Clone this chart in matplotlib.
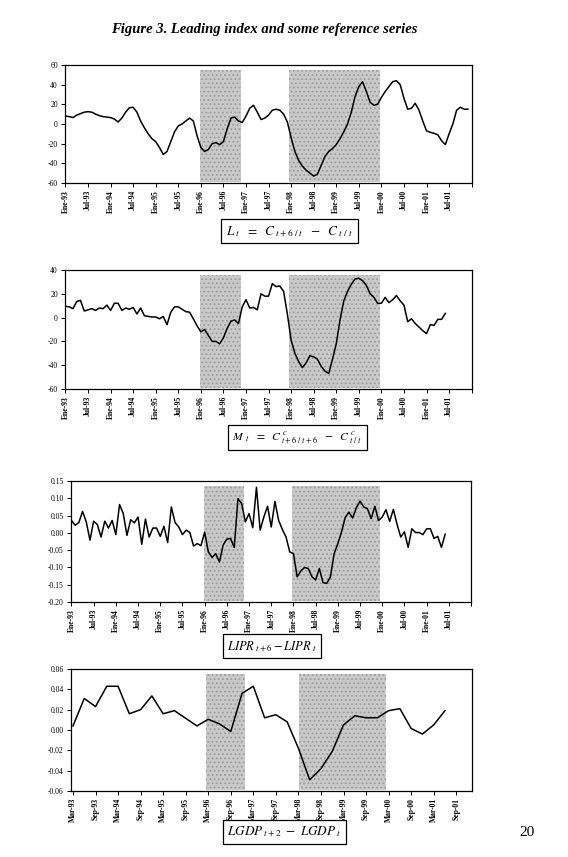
import matplotlib
matplotlib.use("Agg")
import matplotlib.pyplot as plt

plt.rcParams['font.family'] = ['Liberation Serif', 'DejaVu Serif']
plt.rcParams['mathtext.fontset'] = 'stix'
plt.rcParams['axes.unicode_minus'] = False
plt.rcParams['hatch.linewidth'] = 0.8

# monthly tick labels (Ene-93 ... Jul-01) and quarterly ones (Mar-93 ... Sep-01)
month_labels = []
for yr in ['93', '94', '95', '96', '97', '98', '99', '00', '01']:
    month_labels += ['Ene-' + yr, 'Jul-' + yr]
quarter_labels = []
for yr in ['93', '94', '95', '96', '97', '98', '99', '00', '01']:
    quarter_labels += ['Mar-' + yr, 'Sep-' + yr]

# L_t, monthly from Ene-93
leading = [8, 7.5, 6.5, 9, 10.5, 12, 12.5, 12, 10, 8.5, 7.5, 7,
           6.5, 5, 2, 6, 12, 16.5, 17, 12, 3, -4, -10, -15,
           -18, -24, -31, -28, -18, -8, -2, 0, 3, 6, 3, -12,
           -24, -28, -26, -20, -19, -21, -18, -5, 6, 7, 3, 1.5,
           8, 16, 19, 12, 4.5, 6, 9, 14, 15, 14, 10, 2,
           -14, -28, -37, -43, -47, -50, -53, -51, -42, -33, -28, -25,
           -21, -15, -8, 0, 12, 28, 38, 43, 33, 22, 19, 20,
           27, 33, 38, 43, 44, 40, 26, 15, 16, 21, 14, 3,
           -7, -8.5, -9.5, -11, -17, -21, -10, 0, 14, 17, 15, 15]

# M_t, monthly from Ene-93
m_series = [9.5, 9, 7.5, 13.5, 14.5, 5.5, 6.5, 7.5, 6, 8, 7.5, 10.5,
            6, 12, 12, 6, 8, 7, 8.5, 3, 8, 1.5, 1, 0.5,
            0.5, -1, 1, -6, 4.5, 9, 9, 7, 5, 4.5, -1, -7,
            -12, -10, -15, -20, -20, -22, -17, -9, -3, -2, -5, 9,
            15, 8, 8.5, 6.5, 20, 18, 18, 28.5, 26, 26.5, 22, 3,
            -19, -30, -37, -42, -38, -32, -33, -35, -41, -45, -47, -35,
            -22, -2, 14, 22, 28, 32.5, 33, 31, 27, 20, 17, 12,
            12, 17, 12.5, 15, 18.5, 14, 10.5, -3.5, -1, -5, -8, -11,
            -13.5, -6, -6.5, -1.5, -1.5, 3.5]

# LIPR(t+6) - LIPR(t), monthly from Ene-93
lipr = [0.036, 0.022, 0.030, 0.062, 0.032, -0.021, 0.034, 0.024, -0.012, 0.034, 0.014, 0.036,
        -0.005, 0.082, 0.056, -0.007, 0.038, 0.029, 0.046, -0.033, 0.040, -0.012, 0.014, 0.014,
        -0.010, 0.019, -0.028, 0.075, 0.030, 0.017, -0.005, 0.008, 0.001, -0.038, -0.031, -0.037,
        0.002, -0.055, -0.071, -0.060, -0.084, -0.035, -0.018, -0.016, -0.042, 0.099, 0.085, 0.032,
        0.056, 0.015, 0.132, 0.008, 0.046, 0.077, 0.017, 0.091, 0.036, 0.010, -0.012, -0.055,
        -0.060, -0.127, -0.110, -0.100, -0.103, -0.127, -0.136, -0.103, -0.144, -0.146, -0.127, -0.060,
        -0.031, 0.003, 0.045, 0.060, 0.043, 0.073, 0.092, 0.075, 0.070, 0.041, 0.077, 0.036,
        0.046, 0.067, 0.033, 0.068, 0.025, -0.012, 0.003, -0.042, 0.012, 0.001, 0.001, -0.005,
        0.012, 0.012, -0.016, -0.010, -0.042, -0.004]

# LGDP(t+2) - LGDP(t), quarterly from Mar-93
lgdp = [0.004, 0.031, 0.023, 0.043, 0.043, 0.016, 0.020, 0.0335, 0.016, 0.019,
        0.0115, 0.004, 0.0105, 0.006, -0.0015, 0.036, 0.043, 0.012, 0.015, 0.008,
        -0.018, -0.049, -0.038, -0.021, 0.005, 0.014, 0.012, 0.012, 0.019, 0.021,
        0.0015, -0.004, 0.005, 0.019]

# shaded periods (months from Ene-93 / quarters from Mar-93)
shade_months = [(35.8, 46.6), (59.5, 83.5)]
shade_quarters = [(11.8, 15.3), (20.05, 27.8)]

fig = plt.figure(figsize=(5.68, 8.57), dpi=100)

panels = [
    dict(pos=[0.1139, 0.7865, 0.7165, 0.1377], y=leading, lim=(-60, 60), step=20,
         fmt='{:.0f}', labels=month_labels, every=6, xmax=108, shade=shade_months),
    dict(pos=[0.1139, 0.5461, 0.7165, 0.1389], y=m_series, lim=(-60, 40), step=20,
         fmt='{:.0f}', labels=month_labels, every=6, xmax=108, shade=shade_months),
    dict(pos=[0.1245, 0.2975, 0.7048, 0.1412], y=lipr, lim=(-0.20, 0.15), step=0.05,
         fmt='{:.2f}', labels=month_labels, every=6, xmax=108, shade=shade_months),
    dict(pos=[0.1245, 0.0770, 0.7065, 0.1424], y=lgdp, lim=(-0.06, 0.06), step=0.02,
         fmt='{:.2f}', labels=quarter_labels, every=2, xmax=35.4, shade=shade_quarters),
]

for p in panels:
    ax = fig.add_axes(p['pos'])
    for a, b in p['shade']:
        ax.axvspan(a, b, ymin=0.008, ymax=0.955, facecolor='#c9c9c9',
                   edgecolor='#9c9c9c', hatch='....', linewidth=0, zorder=1)
    ax.plot(range(len(p['y'])), p['y'], color='black', linewidth=1.1, zorder=3)
    ax.set_xlim(-0.2, p['xmax'])
    lo, hi = p['lim']
    ax.set_ylim(lo, hi)
    n = int(round((hi - lo) / p['step']))
    yt = [lo + i * p['step'] for i in range(n + 1)]
    ax.set_yticks(yt)
    ax.set_yticklabels([p['fmt'].format(v) for v in yt], fontsize=5.5)
    xt = [i * p['every'] for i in range(len(p['labels']) + 1)]
    xt = [v for v in xt if v <= p['xmax']]
    ax.set_xticks(xt)
    ax.set_xticklabels((p['labels'] + [''])[:len(xt)], rotation=90,
                       fontsize=5.5, fontweight='bold')
    ax.tick_params(axis='both', direction='out', length=3, width=0.7, pad=2)
    for s in ax.spines.values():
        s.set_linewidth(0.9)

fig.text(0.465, 0.965, 'Figure 3. Leading index and some reference series',
         ha='center', va='center', fontsize=10.5, fontweight='bold', style='italic')

box = dict(boxstyle='square,pad=0.35', facecolor='white', edgecolor='black', linewidth=0.9)
fig.text(0.51, 0.73, r'$L_{\ t}\ \ =\ \ C_{\ t+6\ /\ t}\ \ -\ \ C_{\ t\ /\ t}$',
         ha='center', va='center', fontsize=9.5, bbox=box)
fig.text(0.524, 0.489, r'$M_{\ \ t}\ \ =\ \ C^{\ c}_{\ t+6\ /\ t+6}\ \ -\ \ C^{\ c}_{\ t\ /\ t}$',
         ha='center', va='center', fontsize=8.5, bbox=box)
fig.text(0.479, 0.246, r'$LIPR_{\ t+6}-LIPR_{\ t}$',
         ha='center', va='center', fontsize=9, bbox=box)
fig.text(0.501, 0.0295, r'$LGDP_{\ t+2}\ -\ LGDP_{\ t}$',
         ha='center', va='center', fontsize=9.5, bbox=box)

fig.text(0.928, 0.029, '20', ha='center', va='center', fontsize=11)

fig.savefig('out.png', dpi=100)
